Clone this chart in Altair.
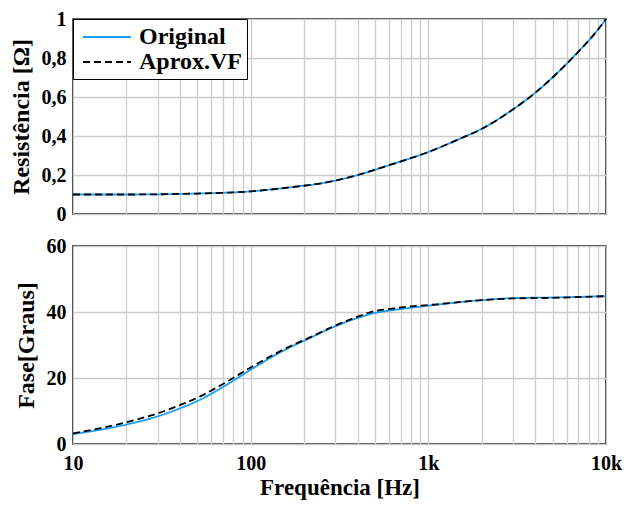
import altair as alt
import pandas as pd

# Resistance (both curves practically identical)
freq_r = [10, 20, 50, 100, 171, 252, 400, 600, 1000, 1500, 2000, 3000, 4000, 5000, 6000, 7000, 8000, 9000, 10000]
res_orig = [0.100, 0.100, 0.105, 0.116, 0.138, 0.158, 0.200, 0.250, 0.318, 0.385, 0.437, 0.537, 0.622, 0.700, 0.770, 0.833, 0.890, 0.945, 1.000]
res_vf = [0.100, 0.100, 0.105, 0.116, 0.138, 0.158, 0.200, 0.250, 0.318, 0.385, 0.437, 0.537, 0.622, 0.700, 0.770, 0.833, 0.890, 0.945, 1.000]

# Phase
freq_p = [10, 20, 30, 40, 50, 70, 100, 138, 171, 200, 300, 400, 500, 600, 800, 1000, 1200, 2000, 3000, 5000, 10000]
fase_orig = [3.0, 5.9, 8.4, 10.8, 13.0, 17.3, 22.5, 27.0, 29.6, 31.3, 35.7, 38.2, 39.7, 40.4, 41.3, 41.9, 42.4, 43.6, 44.2, 44.4, 44.8]
fase_vf = [3.2, 6.6, 9.3, 11.8, 14.0, 18.2, 23.2, 27.4, 29.9, 31.5, 35.9, 38.6, 40.3, 40.9, 41.7, 42.1, 42.5, 43.6, 44.1, 44.3, 44.8]

series = ["Original", "Aprox.VF"]
x_ticks = [m * 10 ** e for e in range(1, 4) for m in range(1, 10)] + [10000]

df_r = pd.DataFrame(
    [{"f": f, "v": v, "s": "Original"} for f, v in zip(freq_r, res_orig)]
    + [{"f": f, "v": v, "s": "Aprox.VF"} for f, v in zip(freq_r, res_vf)]
)
df_p = pd.DataFrame(
    [{"f": f, "v": v, "s": "Original"} for f, v in zip(freq_p, fase_orig)]
    + [{"f": f, "v": v, "s": "Aprox.VF"} for f, v in zip(freq_p, fase_vf)]
)

FONT = "Liberation Serif"
W, H_TOP, H_BOT = 533, 195, 198

color_scale = alt.Scale(domain=series, range=["#1a9cf0", "#000000"])
dash_scale = alt.Scale(domain=series, range=[[1, 0], [7, 4]])

x_lbl = "datum.value == 10 ? '10' : datum.value == 100 ? '100' : datum.value == 1000 ? '1k' : datum.value == 10000 ? '10k' : ''"

legend = alt.Legend(
    title=None, orient="top-left", offset=0, padding=5,
    strokeColor="black", fillColor="white",
    labelFont=FONT, labelFontSize=24, labelFontWeight="bold", labelColor="black",
    symbolType="M-1,0H3", symbolSize=576, symbolStrokeWidth=2, symbolOffset=4,
    rowPadding=0, labelOffset=31, cornerRadius=0,
)

top = alt.Chart(df_r).mark_line(strokeWidth=1.8, interpolate="monotone").encode(
    x=alt.X("f:Q", scale=alt.Scale(type="log", domain=[10, 10000], nice=False),
            axis=alt.Axis(values=x_ticks, labels=False, title=None)),
    y=alt.Y("v:Q", scale=alt.Scale(domain=[0, 1], nice=False),
            axis=alt.Axis(values=[0, 0.2, 0.4, 0.6, 0.8, 1.0], title="Resistência [Ω]",
                          labelExpr="datum.value == 0 ? '0' : datum.value == 1 ? '1' : replace(format(datum.value, '.1f'), '.', ',')")),
    color=alt.Color("s:N", scale=color_scale, sort=series, legend=legend),
    strokeDash=alt.StrokeDash("s:N", scale=dash_scale, sort=series, legend=legend),
    order=alt.Order("o:Q"),
).transform_calculate(o="datum.s == 'Original' ? 0 : 1").properties(width=W, height=H_TOP)

bottom = alt.Chart(df_p).mark_line(strokeWidth=1.8, interpolate="monotone").encode(
    x=alt.X("f:Q", scale=alt.Scale(type="log", domain=[10, 10000], nice=False),
            axis=alt.Axis(values=x_ticks, labelExpr=x_lbl, title="Frequência [Hz]")),
    y=alt.Y("v:Q", scale=alt.Scale(domain=[0, 60], nice=False),
            axis=alt.Axis(values=[0, 20, 40, 60], title="Fase[Graus]")),
    color=alt.Color("s:N", scale=color_scale, sort=series, legend=None),
    strokeDash=alt.StrokeDash("s:N", scale=dash_scale, sort=series, legend=None),
).properties(width=W, height=H_BOT)

chart = alt.vconcat(top, bottom, spacing=10).resolve_legend(
    color="independent", strokeDash="independent"
).properties(
    padding={"left": 0, "top": 0, "right": 0, "bottom": 0}
).configure_view(
    stroke="black", strokeWidth=1.5
).configure_axis(
    labelFont=FONT, labelFontSize=20, labelFontWeight="bold", labelColor="black",
    titleFont=FONT, titleFontSize=24, titleFontWeight="bold", titleColor="black",
    grid=True, gridColor="#cccccc", gridWidth=1.3,
    domain=False, ticks=False, labelPadding=7, titlePadding=8,
).configure_axisX(
    labelPadding=9, titlePadding=3, titleFontSize=23, labelFlush=False,
).configure_axisY(
    labelFlush=False,
)

chart.save("out.html", embed_options={"renderer": "svg", "actions": False})
